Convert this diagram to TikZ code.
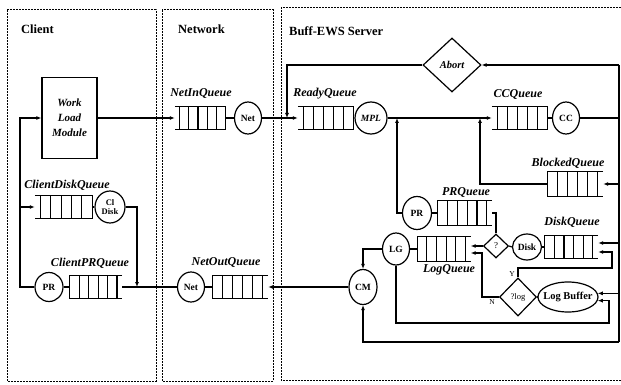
\documentclass[tikz,border=0pt]{standalone}
\usepackage{fontspec}
\setmainfont{Liberation Serif}
\usetikzlibrary{shapes.geometric,arrows.meta,calc}

\tikzset{
  panel/.style={line width=1pt,dash pattern=on 2pt off 1pt},
  title/.style={font=\fontsize{12.5}{14}\selectfont\bfseries,anchor=west,inner sep=0pt},
  qlabel/.style={font=\fontsize{12}{13}\selectfont\bfseries\itshape,inner sep=0pt},
  qbox/.style={rectangle,inner sep=0pt,minimum height=23pt},
  srv/.style={ellipse,draw,line width=1.2pt,inner sep=0pt,minimum width=28pt,
    minimum height=32pt,font=\fontsize{9.5}{10}\selectfont\bfseries},
  decide/.style={diamond,draw,line width=1.2pt,inner sep=0pt},
  conn/.style={line width=1.2pt},
}
% Warteschlange: Name, geschlossene Seite, offene Seite
\newcommand\qcells[3]{%
  \draw[line width=1.1pt] (#1.north #3) -- (#1.north #2) -- (#1.south #2) -- (#1.south #3);
  \foreach \f in {0.18,0.36,0.54,0.72,0.9}
    \draw[line width=1.1pt] ($(#1.north #2)!\f!(#1.north #3)$) -- ($(#1.south #2)!\f!(#1.south #3)$);
}

\begin{document}
\begin{tikzpicture}[x=1pt,y=-1pt,>={Latex[length=5pt,width=4pt]}]
\useasboundingbox (0,0) rectangle (621,385);
%
% --- Client ---
\draw[panel] (7,10) rectangle (156,381);
\node[title] (t-client) at (21,29) {Client};
\node[draw,line width=1.2pt,minimum width=55pt,minimum height=81pt,align=center,inner sep=0pt,
  font=\fontsize{11}{15}\selectfont\bfseries\itshape] (wlm) at (69.5,118) {Work\\Load\\Module};
\node[qbox,minimum width=57pt] (cdq) at (63.5,207) {};
\qcells{cdq}{east}{west}
\node[srv,minimum width=30pt,align=center,font=\fontsize{8.5}{9}\selectfont\bfseries] (cldisk) at (110,207) {Cl\\Disk};
\node[qbox,minimum width=52pt,minimum height=22pt] (cpq) at (96,287) {};
\qcells{cpq}{west}{east}
\node[srv,minimum height=29pt] (prc) at (49,287) {PR};
\node[qlabel] (l-cdq) at (67,185) {ClientDiskQueue};
\node[qlabel] (l-cpq) at (90,263) {ClientPRQueue};
\coordinate (jwl) at (20,118);
\coordinate (jcp) at (137,287);
%
% --- Network ---
\draw[panel] (162,10) rectangle (273,381);
\node[title] (t-net) at (178,29) {Network};
\node[qbox,minimum width=50pt] (netin) at (200,118) {};
\qcells{netin}{east}{west}
\node[srv,minimum width=27pt] (netA) at (248,118) {Net};
\node[qbox,minimum width=55pt] (netout) at (240.5,287) {};
\qcells{netout}{west}{east}
\node[srv,minimum width=27pt,minimum height=30pt] (netB) at (191,287) {Net};
\node[qlabel] (l-netin) at (201,94) {NetInQueue};
\node[qlabel] (l-netout) at (226,262) {NetOutQueue};
%
% --- Buff-EWS Server ---
\draw[panel] (624,8) -- (281,8) -- (281,380) -- (624,380);
\node[title] (t-srv) at (289,31) {Buff-EWS Server};
\node[qbox,minimum width=55pt] (ready) at (325.5,118) {};
\qcells{ready}{east}{west}
\node[srv,minimum width=32pt,font=\fontsize{9.5}{10}\selectfont\bfseries\itshape] (mpl) at (371,118) {MPL};
\node[qbox,minimum width=55pt] (ccq) at (519.5,118) {};
\qcells{ccq}{east}{west}
\node[srv,minimum width=27pt] (cc) at (566,118) {CC};
\node[decide,minimum width=58pt,minimum height=54pt,font=\fontsize{10.5}{11}\selectfont\bfseries\itshape] (abort) at (452,65) {Abort};
\node[qbox,minimum width=55pt,minimum height=24pt] (blocked) at (575.5,184) {};
\qcells{blocked}{west}{east}
\node[srv,minimum width=29pt,minimum height=33pt] (prs) at (417,213) {PR};
\node[qbox,minimum width=54pt,minimum height=24pt] (prq) at (465,213) {};
\qcells{prq}{west}{east}
\node[decide,minimum width=25pt,minimum height=24pt,font=\fontsize{9}{10}\selectfont] (q) at (496,246) {?};
\node[srv,minimum width=29pt,minimum height=26pt] (disk) at (527,247) {Disk};
\node[qbox,minimum width=53pt] (dq) at (571.5,247) {};
\qcells{dq}{west}{east}
\node[srv,minimum width=27pt] (lg) at (396,249) {LG};
\node[qbox,minimum width=53pt,minimum height=24pt] (lq) at (444,249) {};
\qcells{lq}{west}{east}
\node[decide,minimum width=37pt,minimum height=38pt,font=\fontsize{8.5}{9}\selectfont] (logq) at (518,297) {?log};
\node[ellipse,draw,line width=1.2pt,inner sep=0pt,minimum width=60pt,minimum height=30pt,
  font=\fontsize{10.5}{11}\selectfont\bfseries] (logbuf) at (568,297) {\makebox[0pt]{Log Buffer}};
\node[srv,minimum height=35pt] (cm) at (363,287) {CM};
\node[qlabel] (l-ready) at (325,94) {ReadyQueue};
\node[qlabel] (l-ccq) at (518,95) {CCQueue};
\node[qlabel] (l-blocked) at (568,163) {BlockedQueue};
\node[qlabel] (l-prq) at (466,192) {PRQueue};
\node[qlabel] (l-dq) at (572,222) {DiskQueue};
\node[qlabel] (l-lq) at (449,270) {LogQueue};
\node[font=\fontsize{7.5}{8}\selectfont,inner sep=0pt] (l-y) at (512,274) {Y};
\node[font=\fontsize{7.5}{8}\selectfont,inner sep=0pt] (l-n) at (492,302) {N};
% Hilfspunkte
\coordinate (j1) at (287,118);
\coordinate (jpr) at (397,118);
\coordinate (jbl) at (480,118);
\coordinate (bustop) at (619,65);
\coordinate (busbot) at (619,342);
\coordinate (yloop) at (612,268);
\coordinate (lgloop) at (609,323);
\coordinate (nbend) at (482,253);
\coordinate (dqa) at ([yshift=4pt]dq.east);
\coordinate (dqb) at ([yshift=-5pt]dq.east);
\coordinate (lqa) at ([yshift=3pt]lq.east);
\coordinate (lqb) at ([yshift=-4pt]lq.east);
%
% Verbindungen Client
\draw[conn,->] (wlm.east) -- (netin.west);
\draw[conn] (cdq.east) -- (cldisk.west);
\draw[conn,->] (cldisk.east) -| (jcp);
\draw[conn] (cpq.west) -- (prc.east);
\draw[conn,->] (prc.west) -| (jwl) -- (wlm.west);
\draw[conn,->] (cdq.west -| jwl) -- (cdq.west);
% Verbindungen Netzwerk
\draw[conn] (netin.east) -- (netA.west);
\draw[conn,->] (netA.east) -- (ready.west);
\draw[conn] (netout.west) -- (netB.east);
\draw[conn] (netB.west) -- (cpq.east);
% Verbindungen Server
\draw[conn,->] (abort.west) -| (j1);
\draw[conn] (ready.east) -- (mpl.west);
\draw[conn,->] (mpl.east) -- (ccq.west);
\draw[conn,->] (prs.west) -| (jpr);
\draw[conn,->] (blocked.west) -| (jbl);
\draw[conn] (ccq.east) -- (cc.west);
\draw[conn] (cc.east) -- (cc.east -| bustop);
\draw[conn] (bustop) -- (busbot);
\draw[conn,->] (bustop) -- (abort.east);
\draw[conn,->] (bustop |- blocked.east) -- (blocked.east);
\draw[conn,->] (bustop |- dqa) -- (dqa);
\draw[conn,->] (bustop |- logbuf.7) -- (logbuf.7);
\draw[conn,->] (busbot) -| (cm.south);
\draw[conn] (prq.west) -- (prs.east);
\draw[conn] (q.north) |- (prq.east);
\draw[conn] (q.east) -- (disk.west);
\draw[conn] (disk.east) -- (dq.west);
\draw[conn,->] (q.west) -- (lqa);
\draw[conn,->] (logq.west) -| (nbend) -- (lqb);
\draw[conn,->] (logq.north) |- (yloop) |- (dqb);
\draw[conn] (logbuf.west) -- (logq.east);
\draw[conn] (lg.east) -- (lq.west);
\draw[conn,->] (lg.south) |- (lgloop) |- (logbuf.-7);
\draw[conn,->] (lg.west) -| (cm.north);
\draw[conn,->] (cm.west) -- (netout.east);
\end{tikzpicture}
\end{document}
